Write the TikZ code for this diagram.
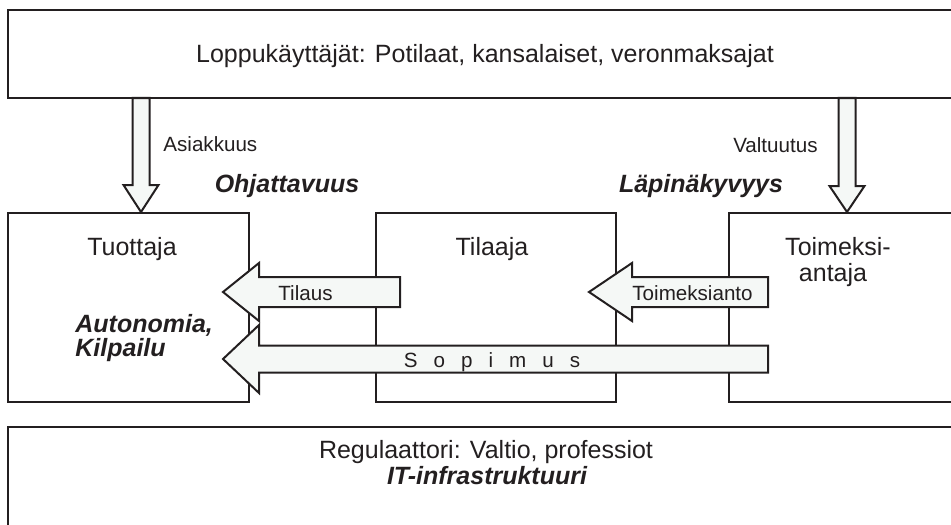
\documentclass[tikz,border=0pt]{standalone}
\usepackage{fontspec}
\setmainfont{Liberation Sans}
\usetikzlibrary{calc,fit}

\definecolor{ink}{HTML}{231F20}
\definecolor{arrowfill}{HTML}{F5F8F6}

\tikzset{
  box/.style={draw=ink, line width=1pt, inner sep=0pt},
  big/.style={font=\fontsize{12.5}{13}\selectfont, text=ink, inner sep=0pt},
  small/.style={font=\fontsize{10.3}{12}\selectfont, text=ink, inner sep=0pt},
  accent/.style={font=\fontsize{12.5}{13}\selectfont\bfseries\itshape, text=ink, inner sep=0pt},
  blockarrow/.style={draw=ink, line width=1pt, fill=arrowfill, line join=miter},
}

% block arrows: tail, tip, shaft half width, head half width, head length
\newcommand{\leftblock}[5]{%
  \draw[blockarrow] ($(#1)+(0,-#3)$) -- ($(#2)+(#5,-#3)$) -- ($(#2)+(#5,-#4)$) -- (#2)
    -- ($(#2)+(#5,#4)$) -- ($(#2)+(#5,#3)$) -- ($(#1)+(0,#3)$) -- cycle;}
\newcommand{\downblock}[5]{%
  \draw[blockarrow] ($(#1)+(-#3,0)$) -- ($(#2)+(-#3,-#5)$) -- ($(#2)+(-#4,-#5)$) -- (#2)
    -- ($(#2)+(#4,-#5)$) -- ($(#2)+(#3,-#5)$) -- ($(#1)+(#3,0)$) -- cycle;}

\begin{document}
\begin{tikzpicture}[x=0.5pt, y=-0.5pt]

      \useasboundingbox (0,0) rectangle (951,524);
      \clip (0,0) rectangle (951,524);

      % boxes
      \node[box, fit={(8,10) (1000,98)}]    (users)     {};
      \node[box, fit={(8,213) (249,402)}]   (tuottaja)  {};
      \node[box, fit={(376,213) (616,402)}] (tilaaja)   {};
      \node[box, fit={(729,213) (1000,402)}] (antaja)   {};
      \node[box, fit={(8,427) (1000,600)}]  (regulator) {};

      % arrow ends
      \coordinate (asiakTail) at (141,98);
      \coordinate (asiakTip)  at (141,212);
      \coordinate (valtTail)  at (847,98);
      \coordinate (valtTip)   at (847,212);
      \coordinate (tilausTail) at (400,292);
      \coordinate (tilausTip)  at (223,292);
      \coordinate (toimTail)   at (768,292);
      \coordinate (toimTip)    at (589,292);
      \coordinate (sopTail)    at (768,359);
      \coordinate (sopTip)     at (223,359);

      \downblock{asiakTail}{asiakTip}{8.5}{17.5}{27}
      \downblock{valtTail}{valtTip}{8.5}{17.5}{26}
      \leftblock{tilausTail}{tilausTip}{15}{29}{36}
      \leftblock{toimTail}{toimTip}{15}{29}{43}
      \leftblock{sopTail}{sopTip}{13.5}{34}{36}

      % texts
      \node[big, anchor=base] (usersText) at (485,63) {Loppukäyttäjät: Potilaat, kansalaiset, veronmaksajat};
      \node[small, anchor=base west] (asiakkuus) at (163,151) {Asiakkuus};
      \node[small, anchor=base east] (valtuutus) at (818,152) {Valtuutus};
      \node[accent, anchor=base] (ohjattavuus)  at (287,192) {Ohjattavuus};
      \node[accent, anchor=base] (lapinakyvyys) at (701,192) {Läpinäkyvyys};

      \node[big, anchor=base] (tuottajaText) at (132,255) {Tuottaja};
      \node[big, anchor=base] (tilaajaText)  at (492,255) {Tilaaja};
      \node[big, anchor=base] (antajaTop)    at (838,255) {Toimeksi-};
      \node[big, anchor=base] (antajaBottom) at (833,281) {antaja};
      \node[accent, anchor=base west] (autonomia) at (75,332) {Autonomia,};
      \node[accent, anchor=base west] (kilpailu)  at (75,356) {Kilpailu};

      \node[small, anchor=base west] (tilaus) at (278,300) {Tilaus};
      \node[small, anchor=base west] (toimeksianto) at (632,300) {Toimeksianto};
      \node[small, anchor=base] (sopimus) at (492,367) {\spaceskip=8pt S o p i m u s};

      \node[big, anchor=base] (regText) at (486,458) {Regulaattori: Valtio, professiot};
      \node[accent, anchor=base] (itText) at (487,484) {IT-infrastruktuuri};

    \end{tikzpicture}
\end{document}
